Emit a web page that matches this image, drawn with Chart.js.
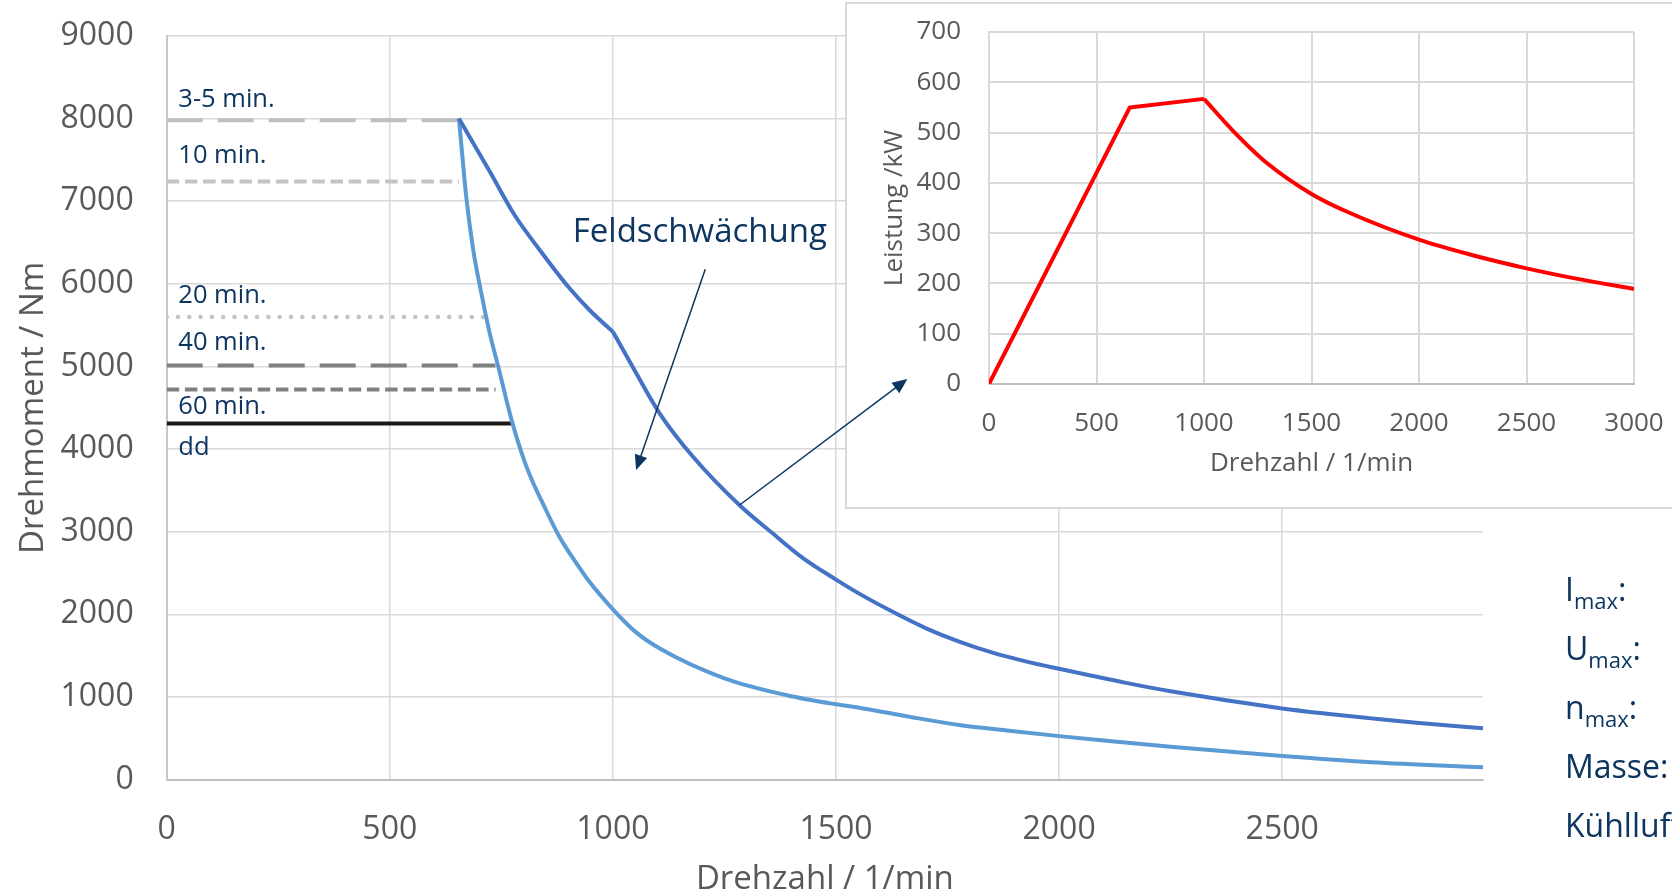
<!DOCTYPE html>
<html lang="de">
<head>
    <meta charset="UTF-8">
    <title>Drehmoment und Leistung</title>
    <script src="https://cdn.jsdelivr.net/npm/chart.js@4.4.1/dist/chart.umd.min.js"></script>
    <style>
        html, body { margin: 0; padding: 0; background: #fff; }
        .wrap { position: relative; width: 1672px; height: 895px; overflow: hidden; }
        #mainChart { position: absolute; left: 0; top: 0; }
        #insetChart { position: absolute; left: 845px; top: 0; }
    </style>
</head>
<body>
<div class="wrap">
    <canvas id="mainChart" width="1672" height="895"></canvas>
    <canvas id="insetChart" width="827" height="510"></canvas>
</div>
<script>
// torque curves (rpm / Nm)
const darkRpmA = [655, 724, 780, 836, 899, 948, 1000];
const darkNmA = [8000, 7360, 6830, 6410, 5970, 5680, 5420];
const darkRpmB = [1000, 1052, 1105, 1179, 1284, 1358, 1426, 1500, 1552, 1627, 1702, 1776, 1851, 1925, 2000, 2150, 2250, 2500, 2600, 2700, 2800, 2950];
const darkNmB = [5420, 4920, 4430, 3910, 3320, 2980, 2680, 2420, 2250, 2030, 1830, 1670, 1535, 1430, 1340, 1170, 1068, 860, 796, 740, 687, 620];
const lightRpm = [655, 672, 687, 705, 724, 743, 773, 806, 851, 881, 918, 948, 1000, 1050, 1110, 1250, 1390, 1500, 1552, 1664, 1776, 1888, 2000, 2112, 2250, 2500, 2700, 2950];
const lightNm = [8000, 7020, 6410, 5890, 5400, 5000, 4350, 3790, 3250, 2930, 2620, 2390, 2060, 1790, 1570, 1225, 1020, 910, 869, 760, 660, 590, 525, 465, 397, 284, 208, 148];

// duty limits (horizontal lines)
const refTorque = [7980, 7240, 5600, 5010, 4720, 4310];
const refEndRpm = [655, 655, 722, 737, 737, 775];
const labelText = ['3-5 min.', '10 min.', '20 min.', '40 min.', '60 min.', 'dd'];
const labelTorque = [8145, 7467, 5772, 5200, 4421, 3929];

// inset: power (rpm / kW)
const powerRpmRamp = [0, 655, 1000];
const powerKwRamp = [0, 550, 567];
const powerRpmDrop = [1000, 1136, 1291, 1500, 1679, 2000, 2250, 2500, 2750, 3000];
const powerKwDrop = [567, 503, 440, 378, 340, 287, 256, 230, 208, 189];

// axis ticks
const xTicksMain = [0, 500, 1000, 1500, 2000, 2500];
const yTicksMain = [0, 1000, 2000, 3000, 4000, 5000, 6000, 7000, 8000, 9000];

// annotations (rpm / Nm)
const fieldText = 'Feldschwächung';
const fieldTextAt = [910, 6504];
const arrowLines = [[1207, 6177, 1052, 3747], [1284, 3323, 1660, 4849]];
const paramNames = [['I', 'max', ':'], ['U', 'max', ':'], ['n', 'max', ':'], ['Masse:', '', ''], ['Kühlluft:', '', '']];

const NAVY = '#0c3560';
const GREY = '#595959';
const FONT = '"Open Sans", sans-serif';

function pts(xs, ys) {
    return xs.map(function (v, i) { return { x: v, y: ys[i] }; });
}

// keep tick-label overflow from pushing the plot area around
function noPad(s) {
    s.paddingTop = 0; s.paddingBottom = 0; s.paddingLeft = 0; s.paddingRight = 0;
}

const refStyles = [
    { color: '#bfbfbf', dash: [36, 15], cap: 'butt', width: 4 },
    { color: '#c4c4c4', dash: [12.5, 5.7], cap: 'butt', width: 4 },
    { color: '#c4c4c4', dash: [0, 11.3], cap: 'round', width: 4.5 },
    { color: '#808080', dash: [36, 15], cap: 'butt', width: 4 },
    { color: '#808080', dash: [12.5, 5.7], cap: 'butt', width: 4 },
    { color: '#1a1a1a', dash: [], cap: 'butt', width: 4 }
];

var mainSets = [
    { data: pts(darkRpmA, darkNmA), borderColor: '#4472c4' },
    { data: pts(darkRpmB, darkNmB), borderColor: '#4472c4' },
    { data: pts(lightRpm, lightNm), borderColor: '#5b9bd5' }
].map(function (d) {
    return Object.assign(d, { showLine: true, borderWidth: 4, pointRadius: 0, cubicInterpolationMode: 'monotone', borderJoinStyle: 'round' });
});

refTorque.forEach(function (t, i) {
    var s = refStyles[i];
    mainSets.push({
        data: [{ x: 0, y: t }, { x: refEndRpm[i], y: t }],
        showLine: true, pointRadius: 0, borderColor: s.color, borderWidth: s.width,
        borderDash: s.dash, borderCapStyle: s.cap, tension: 0
    });
});

function drawArrow(ctx, x1, y1, x2, y2) {
    var a = Math.atan2(y2 - y1, x2 - x1);
    var len = 15, half = 6.5;
    ctx.beginPath();
    ctx.moveTo(x1, y1);
    ctx.lineTo(x2 - Math.cos(a) * len * 0.8, y2 - Math.sin(a) * len * 0.8);
    ctx.stroke();
    ctx.beginPath();
    ctx.moveTo(x2, y2);
    ctx.lineTo(x2 - Math.cos(a) * len - Math.sin(a) * half, y2 - Math.sin(a) * len + Math.cos(a) * half);
    ctx.lineTo(x2 - Math.cos(a) * len + Math.sin(a) * half, y2 - Math.sin(a) * len - Math.cos(a) * half);
    ctx.closePath();
    ctx.fill();
}

const overlay = {
    id: 'overlay',
    afterDraw: function (chart) {
        var ctx = chart.ctx, x = chart.scales.x, y = chart.scales.y;
        ctx.save();

        // frame of the inset chart
        ctx.fillStyle = '#fff';
        ctx.fillRect(846, 3, 840, 505);
        ctx.strokeStyle = '#d9d9d9';
        ctx.lineWidth = 2;
        ctx.strokeRect(846, 3, 840, 505);

        ctx.fillStyle = NAVY;
        ctx.textBaseline = 'alphabetic';
        ctx.textAlign = 'left';

        ctx.font = '25.5px ' + FONT;
        labelText.forEach(function (t, i) {
            ctx.fillText(t, x.getPixelForValue(26), y.getPixelForValue(labelTorque[i]));
        });

        ctx.font = '33px ' + FONT;
        ctx.fillText(fieldText, x.getPixelForValue(fieldTextAt[0]), y.getPixelForValue(fieldTextAt[1]));

        ctx.strokeStyle = NAVY;
        ctx.lineWidth = 1.5;
        arrowLines.forEach(function (a) {
            drawArrow(ctx, x.getPixelForValue(a[0]), y.getPixelForValue(a[1]),
                x.getPixelForValue(a[2]), y.getPixelForValue(a[3]));
        });

        // motor data list at the right edge
        var px = 1565, base = 601;
        paramNames.forEach(function (p, i) {
            var by = base + i * 59, cx = px;
            ctx.font = '32px ' + FONT;
            ctx.fillText(p[0], cx, by);
            cx += ctx.measureText(p[0]).width;
            if (p[1]) {
                ctx.font = '22px ' + FONT;
                ctx.fillText(p[1], cx, by + 8);
                cx += ctx.measureText(p[1]).width;
                ctx.font = '32px ' + FONT;
                ctx.fillText(p[2], cx, by);
            }
        });
        ctx.restore();
    }
};

new Chart(document.getElementById('mainChart'), {
    type: 'scatter',
    data: { datasets: mainSets },
    options: {
        responsive: false,
        animation: false,
        events: [],
        layout: { padding: { left: 0, right: 189, top: 36, bottom: 0 } },
        plugins: { legend: { display: false }, tooltip: { enabled: false } },
        scales: {
            x: {
                type: 'linear', min: 0, max: 2950,
                afterBuildTicks: function (s) { s.ticks = xTicksMain.map(function (v) { return { value: v }; }); },
                afterFit: function (s) { s.height = 115.5; noPad(s); },
                ticks: { stepSize: 500, includeBounds: false, padding: 31, color: GREY, font: { family: FONT, size: 32 },
                    callback: function (v) { return String(v); } },
                grid: { color: '#d9d9d9', lineWidth: 1.5, drawTicks: false },
                border: { color: '#bfbfbf', width: 2 },
                title: { display: true, text: 'Drehzahl / 1/min', color: GREY,
                    font: { family: FONT, size: 33, lineHeight: 1 }, padding: { top: 0, bottom: -1 } }
            },
            y: {
                min: 0, max: 9000,
                afterBuildTicks: function (s) { s.ticks = yTicksMain.map(function (v) { return { value: v }; }); },
                afterFit: function (s) { s.width = 166.7; noPad(s); },
                ticks: { stepSize: 1000, padding: 33, color: GREY, font: { family: FONT, size: 32 },
                    callback: function (v) { return String(v); } },
                grid: { color: '#d9d9d9', lineWidth: 1.5, drawTicks: false },
                border: { color: '#c8c8c8', width: 2 },
                title: { display: true, text: 'Drehmoment / Nm', color: GREY,
                    font: { family: FONT, size: 33, lineHeight: 1 }, padding: { top: 17, bottom: 0 } }
            }
        }
    },
    plugins: [overlay]
});

new Chart(document.getElementById('insetChart'), {
    type: 'scatter',
    data: {
        datasets: [
            { data: pts(powerRpmRamp, powerKwRamp), tension: 0 },
            { data: pts(powerRpmDrop, powerKwDrop), cubicInterpolationMode: 'monotone' }
        ].map(function (d) {
            return Object.assign(d, { showLine: true, borderColor: '#ff0000', borderWidth: 4, pointRadius: 0, borderJoinStyle: 'round' });
        })
    },
    options: {
        responsive: false,
        animation: false,
        events: [],
        layout: { padding: { left: 0, right: 38, top: 32, bottom: 0 } },
        plugins: { legend: { display: false }, tooltip: { enabled: false } },
        scales: {
            x: {
                type: 'linear', min: 0, max: 3000,
                afterFit: function (s) { s.height = 126; noPad(s); },
                ticks: { stepSize: 500, padding: 24, color: GREY, font: { family: FONT, size: 26 },
                    callback: function (v) { return String(v); } },
                grid: { color: '#d9d9d9', lineWidth: 2, drawTicks: false },
                border: { color: '#bfbfbf', width: 2 },
                title: { display: true, text: 'Drehzahl / 1/min', color: GREY,
                    font: { family: FONT, size: 26, lineHeight: 1 }, padding: { top: 0, bottom: 33 } }
            },
            y: {
                min: 0, max: 700,
                afterFit: function (s) { s.width = 144; noPad(s); },
                ticks: { stepSize: 100, padding: 28, color: GREY, font: { family: FONT, size: 26 },
                    callback: function (v) { return String(v); } },
                grid: { color: '#d9d9d9', lineWidth: 2, drawTicks: false },
                border: { color: '#d9d9d9', width: 2 },
                title: { display: true, text: 'Leistung /kW', color: GREY,
                    font: { family: FONT, size: 26, lineHeight: 1 }, padding: { top: 37, bottom: 0 } }
            }
        }
    }
});
</script>
</body>
</html>
